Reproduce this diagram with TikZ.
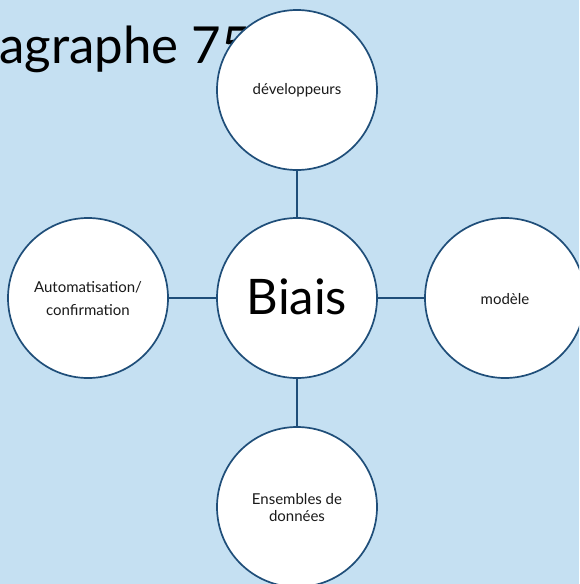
\documentclass[tikz,border=0pt]{standalone}
\usepackage{fontspec}
\setmainfont{Lato}
\definecolor{bg}{HTML}{C5E0F2}
\definecolor{ln}{HTML}{1F4E79}
\definecolor{txt}{HTML}{1A1A1A}
\begin{document}
\begin{tikzpicture}[x=1pt,y=-1pt,
  circ/.style={circle, draw=ln, line width=1.7pt, fill=white, minimum size=160pt, inner sep=0pt},
  conn/.style={draw=ln, line width=1.7pt},
  lbl/.style={font=\fontsize{15}{15}\selectfont, text=txt, inner sep=0pt, anchor=center}]
\useasboundingbox (0,0) rectangle (579,584);
\clip (0,0) rectangle (579,584);
\fill[bg] (0,0) rectangle (579,584);
\node[anchor=base west, font=\fontsize{51}{51}\selectfont, inner sep=0pt, text=black] (title) at (-1,63) {agraphe 75};
\node[circ] (c) at (297,298) {};
\node[circ] (t) at (297,90) {};
\node[circ] (l) at (88,298) {};
\node[circ] (r) at (505,298) {};
\node[circ] (b) at (297,507) {};
\draw[conn] (c) -- (t);
\draw[conn] (c) -- (l);
\draw[conn] (c) -- (r);
\draw[conn] (c) -- (b);
\node[font=\fontsize{49}{49}\selectfont, text=black, inner sep=0pt] (cl) at (297,297) {Biais};
\node[lbl] (tl) at (297,90) {développeurs};
\node[lbl] (ll1) at (88,287) {Automatisation/};
\node[lbl] (ll2) at (88,310) {confirmation};
\node[lbl] (rl) at (505,299) {modèle};
\node[lbl] (bl1) at (297,499) {Ensembles de};
\node[lbl] (bl2) at (297,516) {données};
\end{tikzpicture}
\end{document}
